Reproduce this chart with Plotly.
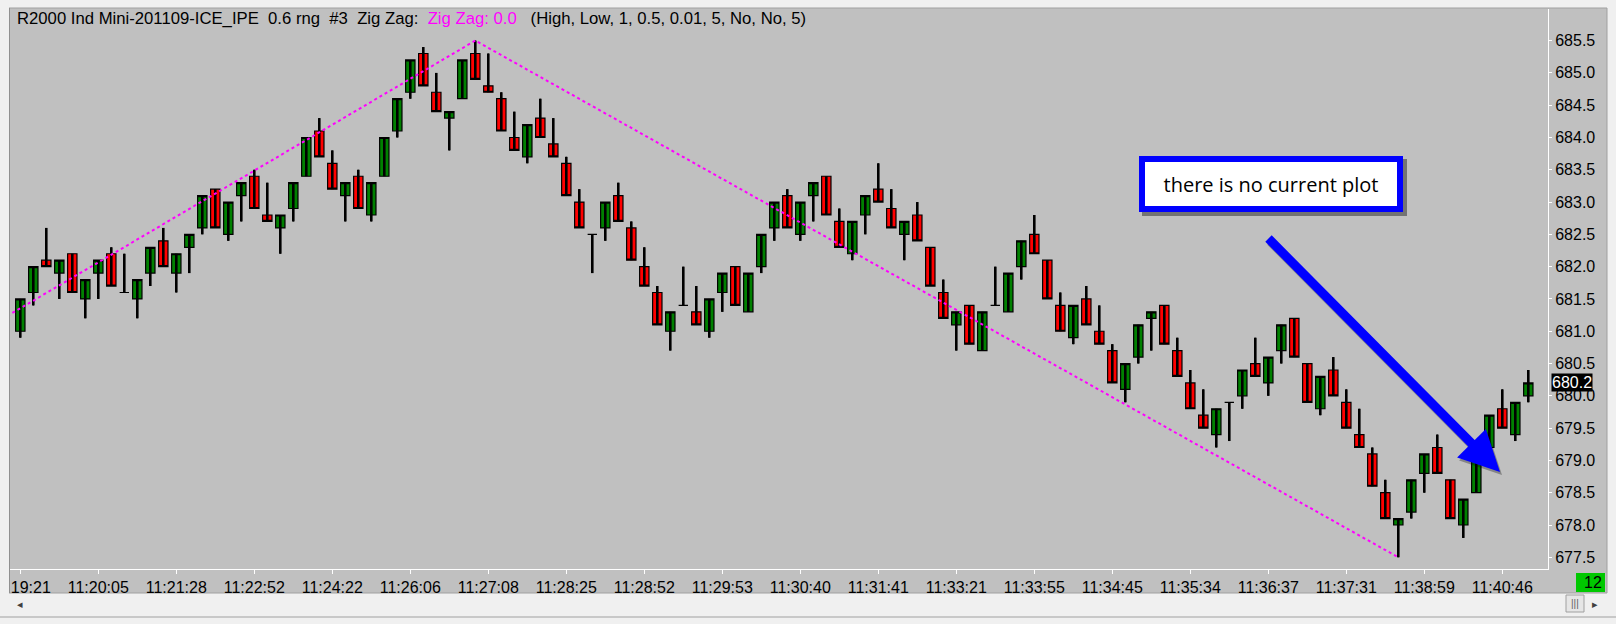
import plotly.graph_objects as go

# ==========================================
# DATA  (0.6 range bars)
# ==========================================
bar_open = [681.0, 681.6, 682.1, 681.9, 682.2, 681.5, 681.9, 682.2, 681.6, 681.5,
            681.9, 682.4, 681.9, 682.3, 682.6, 683.2, 682.5, 683.1, 683.4, 682.8,
            682.6, 682.9, 683.4, 684.1, 683.6, 683.1, 683.4, 682.8, 683.4, 684.1,
            684.7, 685.3, 684.7, 684.3, 684.6, 685.3, 684.8, 684.6, 684.0, 683.7,
            684.3, 683.9, 683.6, 683.0, 682.5, 682.6, 683.1, 682.6, 682.0, 681.6,
            681.0, 681.4, 681.3, 681.0, 681.6, 682.0, 681.3, 682.0, 682.6, 683.1,
            682.5, 683.1, 683.4, 682.7, 682.2, 682.8, 683.2, 682.9, 682.5, 682.8,
            682.3, 681.6, 681.1, 681.4, 680.7, 681.4, 681.3, 682.0, 682.5, 682.1,
            681.4, 680.9, 681.5, 681.0, 680.7, 680.1, 680.6, 681.2, 681.4, 680.7,
            680.2, 679.7, 679.4, 679.9, 680.0, 680.5, 680.2, 680.7, 681.2, 680.5,
            679.8, 680.4, 679.9, 679.4, 679.1, 678.5, 678.0, 678.2, 678.8, 679.2,
            678.7, 678.0, 678.5, 679.2, 679.8, 679.4, 680.0]
bar_high = [681.5, 682.0, 682.6, 682.1, 682.2, 681.8, 682.1, 682.3, 682.2, 681.8,
            682.3, 682.6, 682.2, 682.5, 683.1, 683.2, 683.0, 683.3, 683.5, 683.3,
            682.8, 683.3, 684.0, 684.3, 683.8, 683.3, 683.5, 683.3, 684.0, 684.6,
            685.2, 685.4, 685.0, 684.4, 685.2, 685.5, 685.3, 684.7, 684.4, 684.2,
            684.6, 684.3, 683.7, 683.2, 682.5, 683.0, 683.3, 682.7, 682.3, 681.7,
            681.3, 682.0, 681.7, 681.5, 681.9, 682.0, 681.9, 682.5, 683.0, 683.2,
            683.0, 683.3, 683.4, 682.9, 682.7, 683.1, 683.6, 683.2, 682.7, 683.0,
            682.3, 681.8, 681.3, 681.4, 681.3, 682.0, 681.9, 682.4, 682.8, 682.1,
            681.6, 681.4, 681.7, 681.4, 680.8, 680.5, 681.1, 681.3, 681.4, 680.9,
            680.4, 680.1, 679.8, 679.9, 680.4, 680.9, 680.6, 681.1, 681.2, 680.5,
            680.3, 680.6, 680.1, 679.8, 679.2, 678.7, 678.1, 678.7, 679.1, 679.4,
            678.7, 678.4, 679.1, 679.7, 680.1, 679.9, 680.4]
bar_low = [680.9, 681.4, 682.0, 681.5, 681.6, 681.2, 681.5, 681.7, 681.6, 681.2,
           681.7, 682.0, 681.6, 681.9, 682.5, 682.6, 682.4, 682.7, 682.9, 682.7,
           682.2, 682.7, 683.4, 683.7, 683.2, 682.7, 682.9, 682.7, 683.4, 684.0,
           684.6, 684.8, 684.4, 683.8, 684.6, 684.9, 684.7, 684.1, 683.8, 683.6,
           684.0, 683.7, 683.1, 682.6, 681.9, 682.4, 682.7, 682.1, 681.7, 681.1,
           680.7, 681.4, 681.1, 680.9, 681.3, 681.4, 681.3, 681.9, 682.4, 682.6,
           682.4, 682.7, 682.8, 682.3, 682.1, 682.5, 683.0, 682.6, 682.1, 682.4,
           681.7, 681.2, 680.7, 680.8, 680.7, 681.4, 681.3, 681.8, 682.2, 681.5,
           681.0, 680.8, 681.1, 680.8, 680.2, 679.9, 680.5, 680.7, 680.8, 680.3,
           679.8, 679.5, 679.2, 679.3, 679.8, 680.3, 680.0, 680.5, 680.6, 679.9,
           679.7, 680.0, 679.5, 679.2, 678.6, 678.1, 677.5, 678.1, 678.5, 678.8,
           678.1, 677.8, 678.5, 679.1, 679.5, 679.3, 679.9]
bar_close = [681.5, 682.0, 682.0, 682.1, 681.6, 681.8, 682.1, 681.7, 681.6, 681.8,
             682.3, 682.0, 682.2, 682.5, 683.1, 682.6, 683.0, 683.3, 682.9, 682.7,
             682.8, 683.3, 684.0, 683.7, 683.2, 683.3, 682.9, 683.3, 684.0, 684.6,
             685.2, 684.8, 684.4, 684.4, 685.2, 684.9, 684.7, 684.1, 683.8, 684.2,
             684.0, 683.7, 683.1, 682.6, 682.5, 683.0, 682.7, 682.1, 681.7, 681.1,
             681.3, 681.4, 681.1, 681.5, 681.9, 681.4, 681.9, 682.5, 683.0, 682.6,
             683.0, 683.3, 682.8, 682.3, 682.7, 683.1, 683.0, 682.6, 682.7, 682.4,
             681.7, 681.2, 681.3, 680.8, 681.3, 681.4, 681.9, 682.4, 682.2, 681.5,
             681.0, 681.4, 681.1, 680.8, 680.2, 680.5, 681.1, 681.3, 680.8, 680.3,
             679.8, 679.5, 679.8, 679.9, 680.4, 680.3, 680.6, 681.1, 680.6, 679.9,
             680.3, 680.0, 679.5, 679.2, 678.6, 678.1, 678.1, 678.7, 679.1, 678.8,
             678.1, 678.4, 679.1, 679.7, 679.5, 679.9, 680.2]
bars = list(range(len(bar_close)))

# time axis: a label every 6 bars
tick_bars = list(range(0, len(bar_close), 6))
tick_labels = ["11:19:21", "11:20:05", "11:21:28", "11:22:52", "11:24:22",
               "11:26:06", "11:27:08", "11:28:25", "11:28:52", "11:29:53",
               "11:30:40", "11:31:41", "11:33:21", "11:33:55", "11:34:45",
               "11:35:34", "11:36:37", "11:37:31", "11:38:59", "11:40:46"]

# zig zag pivots (first one sits just left of the visible window)
zz_bars = [-3, 35, 106]
zz_price = [681.0, 685.5, 677.5]

last_price = bar_close[-1]
bar_count_label = "12"
note_text = "there is no current plot"

# ==========================================
# GEOMETRY (pixels of the 1616x624 window)
# ==========================================
W, H = 1616, 624
PL, PR, PT, PB = 10, 1548, 9, 569  # plot area


def px(x):
    return (x - PL) / (PR - PL)


def py(y):
    return (PB - y) / (PB - PT)


FONT = "Liberation Sans, Arial, sans-serif"
GREEN = "#008000"
RED = "#ff0000"
MAGENTA = "#ff00ff"
BLUE = "#0000ff"

fig = go.Figure()

# --- thick black wicks underneath the bodies ---
wick_x, wick_y = [], []
for b, lo, hi in zip(bars, bar_low, bar_high):
    wick_x += [b, b, None]
    wick_y += [lo, hi, None]
fig.add_trace(go.Scatter(x=wick_x, y=wick_y, mode="lines",
                         line=dict(color="black", width=2.6),
                         hoverinfo="skip", showlegend=False))

# --- candle bodies ---
fig.add_trace(go.Candlestick(
    x=bars, open=bar_open, high=bar_high, low=bar_low, close=bar_close,
    increasing=dict(fillcolor=GREEN, line=dict(color="black", width=1.2)),
    decreasing=dict(fillcolor=RED, line=dict(color="black", width=1.2)),
    whiskerwidth=0, showlegend=False, name="R2000"
))

# --- zig zag ---
fig.add_trace(go.Scatter(x=zz_bars, y=zz_price, mode="lines",
                         line=dict(color=MAGENTA, width=2, dash="dot"),
                         hoverinfo="skip", showlegend=False))

title_txt = ("R2000 Ind Mini-201109-ICE_IPE\u00a0\u00a00.6 rng\u00a0\u00a0#3\u00a0\u00a0"
             "Zig Zag:\u00a0\u00a0<span style='color:#ff00ff'>Zig Zag: 0.0</span>"
             "\u00a0\u00a0\u00a0(High, Low, 1, 0.5, 0.01, 5, No, No, 5)")

shapes = [
    # grey chart panel with its thin frame
    dict(type="rect", xref="paper", yref="paper", layer="below",
         x0=px(9), x1=px(1607), y0=py(593), y1=py(8),
         fillcolor="#c0c0c0", line=dict(color="#a0a0a0", width=1)),
    # light window frame on the left (clips the first time label)
    dict(type="rect", xref="paper", yref="paper", layer="above",
         x0=px(0), x1=px(9), y0=py(H), y1=py(0),
         fillcolor="#f0f0f0", line=dict(width=0)),
    dict(type="line", xref="paper", yref="paper", layer="above",
         x0=px(9.5), x1=px(9.5), y0=py(593), y1=py(8),
         line=dict(color="#909090", width=1)),
    # drop shadow behind the note box
    dict(type="rect", xref="paper", yref="paper", layer="above",
         x0=px(1142), x1=px(1407), y0=py(216), y1=py(159),
         fillcolor="rgba(0,0,0,0.4)", line=dict(width=0)),
    # green bar counter box
    dict(type="rect", xref="paper", yref="paper", layer="above",
         x0=px(1576), x1=px(1605), y0=py(592), y1=py(573),
         fillcolor="#00c800", line=dict(width=0)),
    # scrollbar thumb
    dict(type="rect", xref="paper", yref="paper", layer="above",
         x0=px(1566), x1=px(1584), y0=py(612), y1=py(595),
         fillcolor="#e6e6e6", line=dict(color="#a0a0a0", width=1)),
    # bottom frame line
    dict(type="line", xref="paper", yref="paper", layer="above",
         x0=px(0), x1=px(W), y0=py(617), y1=py(617),
         line=dict(color="#a0a0a0", width=1)),
]

annotations = [
    dict(xref="paper", yref="paper", x=px(15), y=py(18), xanchor="left",
         yanchor="middle", showarrow=False, text=title_txt,
         font=dict(family=FONT, size=16.7, color="black")),
    # arrow shadow + arrow
    dict(xref="paper", yref="paper", x=px(1502), y=py(475), ax=-233, ay=-235,
         text="", showarrow=True, arrowhead=2, arrowsize=0.9, arrowwidth=9,
         arrowcolor="rgba(0,0,0,0.3)", standoff=0),
    dict(xref="paper", yref="paper", x=px(1500), y=py(472), ax=-233, ay=-235,
         text="", showarrow=True, arrowhead=2, arrowsize=0.9, arrowwidth=9,
         arrowcolor=BLUE, standoff=0),
    # note box
    dict(xref="paper", yref="paper", x=px(1271), y=py(184), xanchor="center",
         yanchor="middle", showarrow=False,
         text=note_text, font=dict(family="Open Sans, Noto Sans, sans-serif",
                                   size=20, color="black"),
         bgcolor="white", bordercolor=BLUE, borderwidth=6, borderpad=4,
         width=244, height=36, align="center", valign="middle"),
    # last price marker on the price scale
    dict(xref="paper", yref="y", x=1, y=last_price, xanchor="left",
         yanchor="middle", xshift=3,
         showarrow=False, text=f"{last_price:.1f}", bgcolor="black", borderpad=0,
         font=dict(family=FONT, size=16, color="white")),
    # bar counter
    dict(xref="paper", yref="paper", x=px(1604), y=py(582), xanchor="right",
         yanchor="middle", showarrow=False, text=bar_count_label,
         font=dict(family=FONT, size=16, color="black")),
    # scrollbar arrows and grip
    dict(xref="paper", yref="paper", x=px(20), y=py(604), xanchor="center",
         yanchor="middle", showarrow=False,
         text="\u25c2", font=dict(family="DejaVu Sans", size=11, color="#404040")),
    dict(xref="paper", yref="paper", x=px(1595), y=py(604), xanchor="center",
         yanchor="middle", showarrow=False,
         text="\u25b8", font=dict(family="DejaVu Sans", size=11, color="#404040")),
    dict(xref="paper", yref="paper", x=px(1575), y=py(603.5), xanchor="center",
         yanchor="middle", showarrow=False,
         text="|||", font=dict(family=FONT, size=10, color="#606060")),
]

fig.update_layout(
    width=W, height=H, autosize=False,
    margin=dict(l=PL, r=W - PR, t=PT, b=H - PB, pad=0, autoexpand=False),
    paper_bgcolor="#f0f0f0",
    plot_bgcolor="#c0c0c0",
    font=dict(family=FONT, size=16, color="black"),
    showlegend=False,
    boxgap=0.28, boxgroupgap=0,
    shapes=shapes,
    annotations=annotations,
)

fig.update_xaxes(
    range=[(PL - 20.3) / 13, (PR - 20.3) / 13],
    tickvals=tick_bars, ticktext=tick_labels,
    ticks="outside", ticklen=4, tickcolor="white",
    ticklabeloverflow="allow", automargin=False,
    showline=True, linecolor="white", linewidth=1,
    showgrid=False, zeroline=False,
    rangeslider=dict(visible=False),
    tickfont=dict(family=FONT, size=16, color="black"),
)
fig.update_yaxes(
    side="right", automargin=False,
    range=[677.5 - (PB - 557.3) / 64.6, 685.5 + (40.6 - PT) / 64.6],
    tick0=677.5, dtick=0.5, tickformat=".1f",
    ticks="outside", ticklen=3, tickcolor="white",
    showline=True, linecolor="white", linewidth=1,
    showgrid=False, zeroline=False,
    tickfont=dict(family=FONT, size=16, color="black"),
)

fig.write_html("out.html", config={"displayModeBar": False},
               post_script="document.body.style.margin='0px';")
